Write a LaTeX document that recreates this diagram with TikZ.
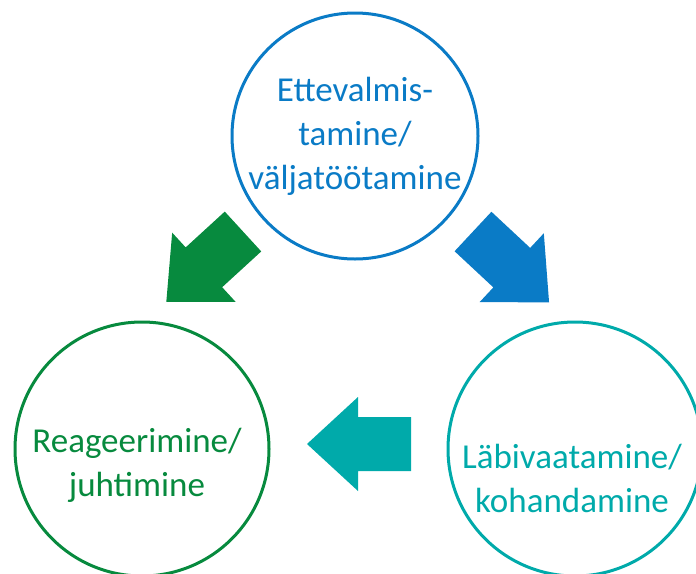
\documentclass[tikz,border=0pt]{standalone}
\usepackage{fontspec}
\setmainfont{Carlito}
\usetikzlibrary{calc}
\definecolor{cycleblue}{HTML}{0A7BC6}
\definecolor{cyclegreen}{HTML}{078A3E}
\definecolor{cycleteal}{HTML}{00AAAA}

\begin{document}
\begin{tikzpicture}[x=1pt, y=-1pt,
    phase/.style={circle, draw=#1, line width=3pt, minimum size=250pt, inner sep=0pt},
    phasetext/.style={align=center, text=#1, font=\fontsize{35}{44}\selectfont},
    blockarrow/.pic={\fill[#1] (0,-27) -- (53,-27) -- (53,-47) -- (104,0) -- (53,47) -- (53,27) -- (0,27) -- cycle;}
]
\useasboundingbox (0,0) rectangle (696,573);
\clip (0,0) rectangle (696,573);

% the three phases
\node[phase=cycleblue, minimum size=246pt] (prep) at (355,136) {};
\node[phase=cyclegreen, minimum size=254pt] (react) at (142,449) {};
\node[phase=cycleteal, minimum size=254pt] (review) at (575,449) {};

\node[phasetext=cycleblue] (preptext) at ($(prep)+(0,0)$) {Ettevalmis-\\tamine/\\väljatöötamine};
\node[phasetext=cyclegreen] (reacttext) at ($(react)+(-5,16)$) {Reageerimine/\\juhtimine};
\node[phasetext=cycleteal] (reviewtext) at ($(review)+(-3,29)$) {Läbivaatamine/\\kohandamine};

% block arrows between them
\pic[rotate=-43] at (473,231.5) {blockarrow=cycleblue};
\pic[rotate=180] at (411,444) {blockarrow=cycleteal};
\pic[rotate=222.5] at (243,231.5) {blockarrow=cyclegreen};
\end{tikzpicture}
\end{document}
